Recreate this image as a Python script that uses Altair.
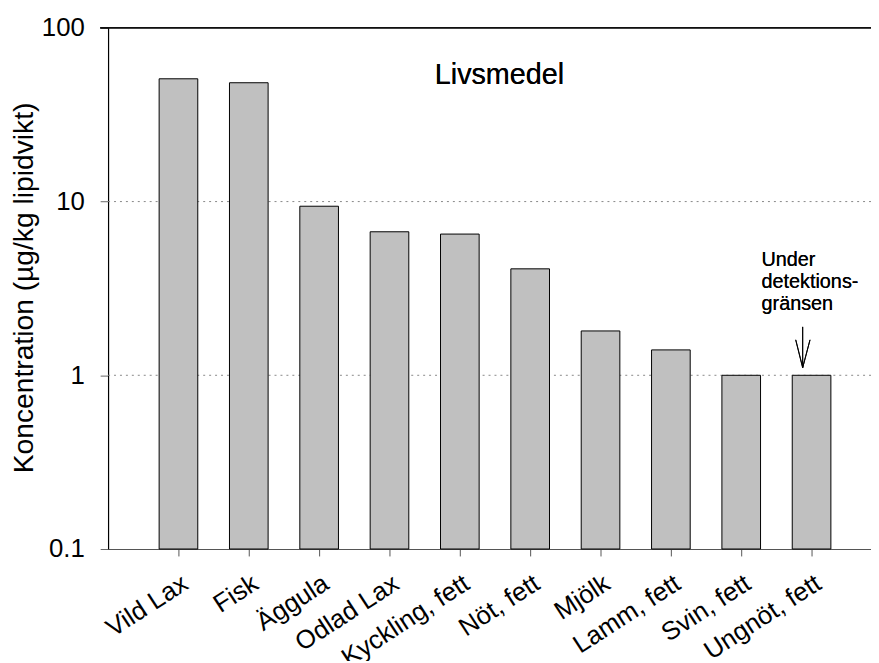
import altair as alt
import pandas as pd

categories = ["Vild Lax", "Fisk", "Äggula", "Odlad Lax", "Kyckling, fett",
              "Nöt, fett", "Mjölk", "Lamm, fett", "Svin, fett", "Ungnöt, fett"]
values = [50.9, 48.3, 9.4, 6.7, 6.5, 4.1, 1.8, 1.4, 1.0, 1.0]
y_ticks = [0.1, 1, 10, 100]
grid_vals = [1, 10]
note_lines = ["Under", "detektions-", "gränsen"]
note_cat = "Ungnöt, fett"

FONT = "Liberation Sans"
W, H = 770, 526

df = pd.DataFrame({"cat": categories, "val": values, "base": [0.1] * len(values)})
grid_df = pd.DataFrame({"g": grid_vals})

xscale = alt.Scale(domain=categories, paddingInner=0.4507, paddingOuter=0.648,
                   align=0.56, round=False)
yscale = alt.Scale(type="log", domain=[0.1, 100])

x_enc = alt.X("cat:N", scale=xscale, sort=None, title=None,
              axis=alt.Axis(labelAngle=327, labelAlign="right", labelBaseline="top",
                            labelFontSize=26, labelFont=FONT, labelColor="black",
                            labelPadding=14, labelOffset=0, tickSize=7, tickColor="#555",
                            domainColor="#555", domainWidth=1.2, labelLimit=400,
                            labelOverlap=False))
y_enc = alt.Y("val:Q", scale=yscale,
              title="Koncentration (µg/kg lipidvikt)",
              axis=alt.Axis(values=y_ticks, format="~g", grid=False,
                            labelFontSize=26, labelFont=FONT, labelColor="black",
                            labelPadding=16, tickSize=8, tickColor="#666",
                            domainColor="black", domainWidth=1.2,
                            titleFontSize=28.5, titleFont=FONT, titleFontWeight="normal",
                            titleColor="black", titleAngle=270, titleX=-76, titleY=262,
                            titleAlign="center", titleBaseline="alphabetic"))

grid = alt.Chart(grid_df).mark_rule(color="#888", strokeDash=[2, 4], strokeWidth=1).encode(
    y=alt.Y("g:Q", scale=yscale)
)

top_line = alt.Chart(grid_df).mark_rule(color="black", strokeWidth=1.3).encode(
    y=alt.YDatum(100, type="quantitative", scale=yscale),
    x=alt.value(-8), x2=alt.value(W)
)

bars = alt.Chart(df).mark_bar(color="#c0c0c0", stroke="black", strokeWidth=1).encode(
    x=x_enc, y=y_enc, y2="base:Q"
)

def seg(bp1, v1, bp2, v2):
    return alt.Chart(grid_df).mark_rule(color="black", strokeWidth=1).encode(
        x=alt.XDatum(note_cat, type="nominal", bandPosition=bp1),
        x2=alt.X2Datum(note_cat, bandPosition=bp2),
        y=alt.YDatum(v1, type="quantitative"),
        y2=alt.Y2Datum(v2),
    )

arrow = seg(0.27, 1.9, 0.27, 1.106) + seg(0.09, 1.6, 0.27, 1.106) + seg(0.46, 1.6, 0.27, 1.106)

note = alt.Chart(grid_df).mark_text(
    text=note_lines, align="left", baseline="alphabetic", fontSize=20, font=FONT,
    lineHeight=22.5, color="black", dx=-31
).encode(
    x=alt.XDatum(note_cat, type="nominal", bandPosition=0),
    y=alt.YDatum(4.28, type="quantitative"),
)

label = alt.Chart(grid_df).mark_text(
    text="Livsmedel", align="center", baseline="alphabetic", fontSize=29, font=FONT, color="black"
).encode(x=alt.value(395), y=alt.value(57))

chart = alt.layer(grid, bars, top_line, arrow, note, label).properties(
    width=W, height=H,
    autosize=alt.AutoSizeParams(type="none"),
    padding={"left": 101, "top": 17, "right": 0, "bottom": 110},
).configure_view(stroke=None)

chart.save("out.html", embed_options={"renderer": "svg", "actions": False})
